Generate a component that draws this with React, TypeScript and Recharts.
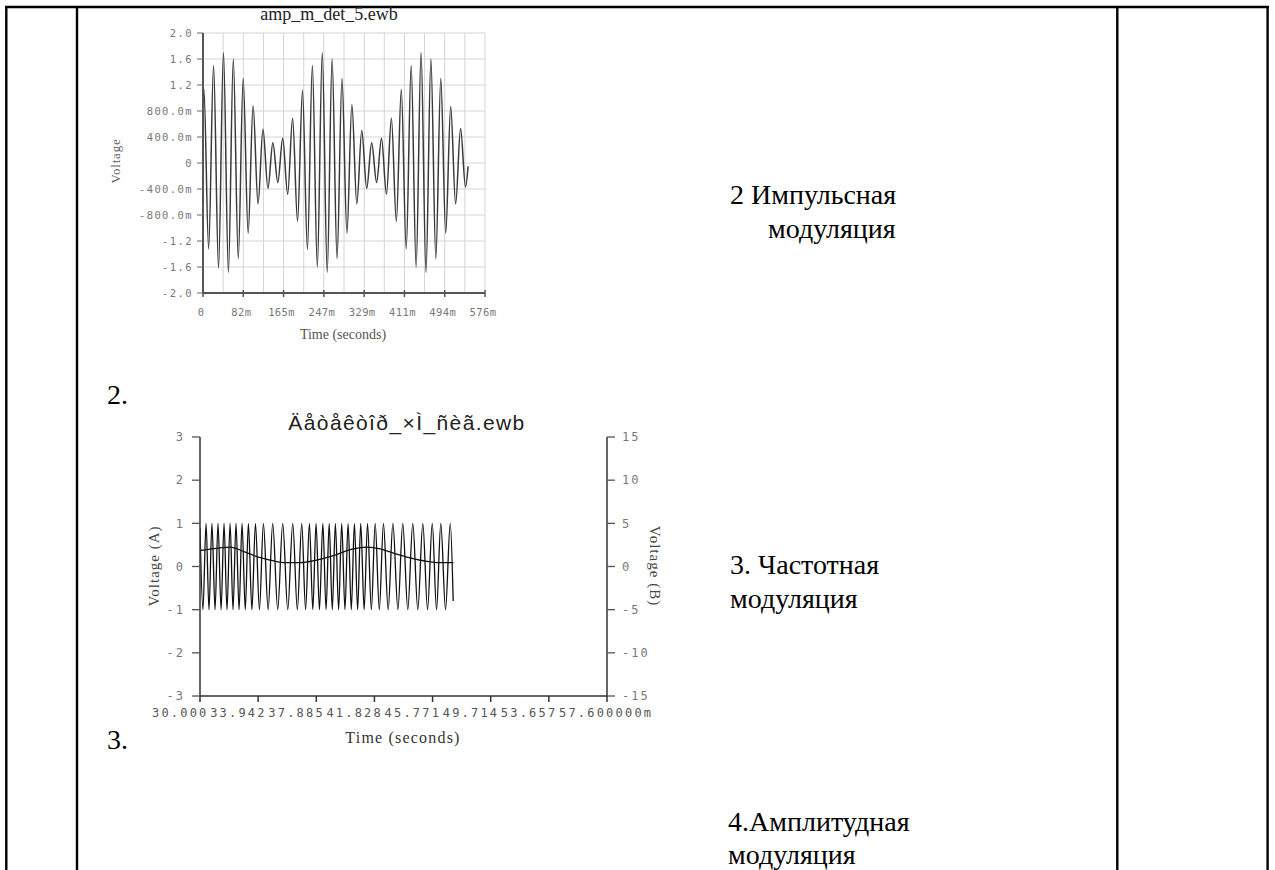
import { LineChart, Line, XAxis, YAxis, CartesianGrid } from 'recharts';

// ---- chart 1: amp_m_det_5.ewb (peaks / troughs, time in ms) ----
const amTime = [
  0, 1.9, 11.5, 21.6, 31.7, 41.8, 51.9, 61.9, 72.0, 82.1, 92.2, 102.3, 112.4, 122.5, 132.6, 142.7,
  152.8, 162.8, 172.9, 183.0, 193.1, 203.2, 213.3, 223.4, 233.5, 243.6, 253.7, 263.7, 273.8, 283.9,
  294.0, 304.1, 314.2, 324.3, 334.4, 344.5, 354.6, 364.6, 374.7, 384.8, 394.9, 405.0, 415.1, 425.2,
  435.3, 445.4, 455.5, 465.5, 475.6, 485.7, 495.8, 505.9, 516.0, 526.1, 536.2, 541.5,
];
const amVolt = [
  0.62,
  1.13, -1.32, 1.5, -1.62, 1.7, -1.68, 1.6, -1.47, 1.3, -1.08, 0.88, -0.63, 0.52, -0.39, 0.31, -0.3, 0.38, -0.48, 0.69, -0.9,
  1.12, -1.33, 1.5, -1.6, 1.7, -1.68, 1.6, -1.47, 1.3, -1.08, 0.9, -0.63, 0.5, -0.39, 0.31, -0.3, 0.38, -0.48, 0.69, -0.9,
  1.13, -1.32, 1.5, -1.6, 1.7, -1.68, 1.6, -1.47, 1.3, -1.08, 0.87, -0.63, 0.53, -0.37,
  -0.05,
];
const amYTicks = [-2, -1.6, -1.2, -0.8, -0.4, 0, 0.4, 0.8, 1.2, 1.6, 2];
const amYLabels = ['-2.0', '-1.6', '-1.2', '-800.0m', '-400.0m', '0', '400.0m', '800.0m', '1.2', '1.6', '2.0'];
const amXTicks = [0, 41.14, 82.29, 123.43, 164.57, 205.71, 246.86, 288, 329.14, 370.29, 411.43, 452.57, 493.71, 534.86, 576];
const amXLabels = ['0', '', '82m', '', '165m', '', '247m', '', '329m', '', '411m', '', '494m', '', '576m'];

// ---- chart 2: FM signal (A) and modulating signal (B), time in ms ----
const fmTime = [
  30.0, 30.2, 30.41, 30.61, 30.81, 31.02, 31.22, 31.43, 31.63, 31.83, 32.04, 32.24, 32.44, 32.65, 32.85,
  33.07, 33.28, 33.52, 33.76, 34.03, 34.3, 34.62, 34.93, 35.27, 35.61, 35.95, 36.29, 36.6, 36.9, 37.16,
  37.42, 37.65, 37.87, 38.1, 38.33, 38.55, 38.76, 38.97, 39.18, 39.4, 39.61, 39.83, 40.04, 40.26, 40.47,
  40.69, 40.9, 41.13, 41.36, 41.62, 41.88, 42.16, 42.44, 42.76, 43.08, 43.42, 43.75, 44.09, 44.43, 44.77,
  45.11, 45.43, 45.75, 46.04, 46.33, 46.65, 46.97, 47.17,
];
const fmVolt = [
  0.9, -1, 1, -1, 1, -1, 1, -1, 1, -1, 1, -1, 1, -1, 1,
  -1, 1, -1, 1, -1, 1, -1, 1, -1, 1, -1, 1, -1, 1, -1,
  1, -1, 1, -1, 1, -1, 1, -1, 1, -1, 1, -1, 1, -1, 1,
  -1, 1, -1, 1, -1, 1, -1, 1, -1, 1, -1, 1, -1, 1, -1,
  1, -1, 1, -1, 1, -1, 1, -0.8,
];
const envTime = [30.0, 31.13, 32.04, 32.94, 33.85, 34.75, 35.66, 36.79, 37.92, 39.05, 40.18, 41.31, 42.22, 43.12, 44.25, 45.38, 46.29, 47.19];
const envVolt = [1.85, 2.1, 2.25, 1.75, 1.15, 0.75, 0.45, 0.45, 0.75, 1.25, 1.95, 2.25, 2.05, 1.55, 1.0, 0.6, 0.45, 0.45];
const fmLeftTicks = [-3, -2, -1, 0, 1, 2, 3];
const fmRightTicks = [-15, -10, -5, 0, 5, 10, 15];
const fmXTicks = [30, 33.942857, 37.885714, 41.828571, 45.771429, 49.714286, 53.657143, 57.6];
// the long labels overwrite each other in the original, only these parts stay visible
const fmXLabels = ['30.000', '33.942', '37.885', '41.828', '45.771', '49.714', '53.657', '57.600000m'];

const amData = amTime.map((t, i) => ({ t, v: amVolt[i] }));
const fmData = fmTime.map((t, i) => ({ t, a: fmVolt[i] }));
const envData = envTime.map((t, i) => ({ t, b: envVolt[i] }));

const mono = "'DejaVu Sans Mono', 'Liberation Mono', monospace";
const serif = "'Liberation Serif', 'Times New Roman', serif";
const sans = "'Liberation Sans', Arial, sans-serif";

const amYFormat = (v: number) => {
  const i = amYTicks.findIndex((t) => Math.abs(t - v) < 1e-6);
  return i >= 0 ? amYLabels[i] : '';
};

const AmXTick = (props: any) => {
  const { x, y, payload } = props;
  const idx = props.index ?? amXTicks.findIndex((t) => Math.abs(t - payload.value) < 1e-6);
  const label = amXLabels[idx];
  if (!label) return <g />;
  return (
    <g>
      <line x1={x} y1={y - 3} x2={x} y2={y + 4} stroke="#555" strokeWidth={1.5} />
      <text x={x - 2} y={y + 23} textAnchor="middle" fill="#777" fontSize={10.5} letterSpacing={0.4} style={{ fontFamily: mono }}>
        {label}
      </text>
    </g>
  );
};

const FmXTick = (props: any) => {
  const { x, y, payload } = props;
  const idx = props.index ?? fmXTicks.findIndex((t) => Math.abs(t - payload.value) < 1e-6);
  return (
    <g>
      <line x1={x} y1={y} x2={x} y2={y + 6} stroke="#333" strokeWidth={1.5} />
      <text x={x - 48} y={y + 21} textAnchor="start" fill="#555" fontSize={12} letterSpacing={2.2} style={{ fontFamily: mono }}>
        {fmXLabels[idx]}
      </text>
    </g>
  );
};

const docText = { fontFamily: serif };

export default function App() {
  return (
    <div style={{ position: 'absolute', left: 0, top: 0, width: 1275, height: 870, background: '#fff', overflow: 'hidden' }}>
      <svg width={1275} height={870} style={{ position: 'absolute', left: 0, top: 0 }}>
        {/* table frame */}
        <line x1={5} y1={7} x2={1269} y2={7} stroke="#000" strokeWidth={2.6} />
        <line x1={6.3} y1={6} x2={6.3} y2={870} stroke="#000" strokeWidth={2.4} />
        <line x1={77} y1={6} x2={77} y2={870} stroke="#000" strokeWidth={2.4} />
        <line x1={1117.3} y1={6} x2={1117.3} y2={870} stroke="#000" strokeWidth={2.4} />
        <line x1={1267.6} y1={6} x2={1267.6} y2={870} stroke="#000" strokeWidth={2.4} />

        {/* chart 1 texts */}
        <text x={329} y={20} textAnchor="middle" fontSize={18} fill="#222" style={docText}>amp_m_det_5.ewb</text>
        <text x={120} y={161} transform="rotate(-90 120 161)" textAnchor="middle" fontSize={13} letterSpacing={0.8} fill="#666" style={docText}>Voltage</text>
        <text x={343} y={339} textAnchor="middle" fontSize={14} fill="#555" style={docText}>Time (seconds)</text>

        {/* chart 2 texts */}
        <text x={407} y={430} textAnchor="middle" fontSize={21} letterSpacing={1.4} fill="#222" style={{ fontFamily: sans }}>Äåòåêòîð_×Ì_ñèã.ewb</text>
        <text x={159} y={566} transform="rotate(-90 159 566)" textAnchor="middle" fontSize={15} letterSpacing={1} fill="#444" style={docText}>Voltage (A)</text>
        <text x={650} y={566} transform="rotate(90 650 566)" textAnchor="middle" fontSize={15} letterSpacing={1} fill="#444" style={docText}>Voltage (B)</text>
        <text x={403} y={743} textAnchor="middle" fontSize={16} letterSpacing={1.2} fill="#333" style={docText}>Time (seconds)</text>

        {/* document text */}
        <text x={107} y={404} fontSize={28} fill="#000" style={docText}>2.</text>
        <text x={107} y={749} fontSize={28} fill="#000" style={docText}>3.</text>
        <text x={730} y={204} fontSize={28} fill="#000" style={docText}>2 Импульсная</text>
        <text x={768} y={238} fontSize={28} fill="#000" style={docText}>модуляция</text>
        <text x={730} y={574} fontSize={28} fill="#000" style={docText}>3. Частотная</text>
        <text x={730} y={608} fontSize={28} fill="#000" style={docText}>модуляция</text>
        <text x={728} y={831} fontSize={28} fill="#000" style={docText}>4.Амплитудная</text>
        <text x={728} y={864} fontSize={28} fill="#000" style={docText}>модуляция</text>
      </svg>

      <div style={{ position: 'absolute', left: 100, top: 0 }}>
        <LineChart width={420} height={345} data={amData} margin={{ top: 33, right: 35, bottom: 22, left: 0 }}>
          <CartesianGrid stroke="#d4d4d4" strokeWidth={1} />
          <XAxis
            dataKey="t"
            type="number"
            domain={[0, 576]}
            ticks={amXTicks}
            interval={0}
            height={30}
            tickSize={0}
            tickMargin={0}
            tickLine={false}
            axisLine={{ stroke: '#555', strokeWidth: 2 }}
            tick={<AmXTick />}
            allowDataOverflow
          />
          <YAxis
            type="number"
            domain={[-2, 2]}
            ticks={amYTicks}
            interval={0}
            width={103}
            tickSize={6}
            tickMargin={4}
            tickFormatter={amYFormat}
            tickLine={{ stroke: '#666' }}
            axisLine={{ stroke: '#555', strokeWidth: 2 }}
            tick={{ fill: '#777', fontSize: 10.5, fontFamily: 'DejaVu Sans Mono', letterSpacing: 1.4 }}
            allowDataOverflow
          />
          <Line dataKey="v" type="monotone" stroke="#3a3a3a" strokeWidth={1.5} dot={false} isAnimationActive={false} />
        </LineChart>
      </div>

      <div style={{ position: 'absolute', left: 100, top: 400 }}>
        <LineChart width={600} height={345} margin={{ top: 37, right: 33, bottom: 19, left: 0 }}>
          <XAxis
            dataKey="t"
            type="number"
            domain={[30, 57.6]}
            ticks={fmXTicks}
            interval={0}
            height={30}
            tickSize={0}
            tickMargin={0}
            tickLine={false}
            axisLine={{ stroke: '#333', strokeWidth: 1.5 }}
            tick={<FmXTick />}
            allowDataOverflow
          />
          <YAxis
            yAxisId="left"
            type="number"
            domain={[-3, 3]}
            ticks={fmLeftTicks}
            interval={0}
            width={100}
            tickSize={8}
            tickMargin={7}
            tickLine={{ stroke: '#555', strokeWidth: 1.3 }}
            axisLine={{ stroke: '#333', strokeWidth: 1.5 }}
            tick={{ fill: '#777', fontSize: 12, fontFamily: 'DejaVu Sans Mono', letterSpacing: 2 }}
            allowDataOverflow
          />
          <YAxis
            yAxisId="right"
            orientation="right"
            type="number"
            domain={[-15, 15]}
            ticks={fmRightTicks}
            interval={0}
            width={60}
            tickSize={8}
            tickMargin={7}
            tickLine={{ stroke: '#555', strokeWidth: 1.3 }}
            axisLine={{ stroke: '#333', strokeWidth: 1.5 }}
            tick={{ fill: '#777', fontSize: 12, fontFamily: 'DejaVu Sans Mono', letterSpacing: 2 }}
            allowDataOverflow
          />
          <Line yAxisId="left" data={fmData} dataKey="a" type="monotone" stroke="#111" strokeWidth={1.3} dot={false} isAnimationActive={false} />
          <Line yAxisId="right" data={envData} dataKey="b" type="monotone" stroke="#111" strokeWidth={1.3} dot={false} isAnimationActive={false} />
        </LineChart>
      </div>
    </div>
  );
}
